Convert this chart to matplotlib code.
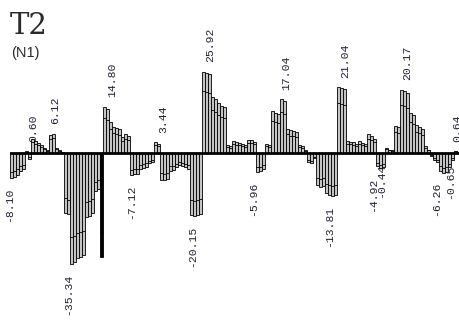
import matplotlib
matplotlib.use("Agg")
import matplotlib.pyplot as plt
import numpy as np

# bar values, left to right (one bar every ~3 px)
values = [
    -8.1, -7.6, -6.9, -5.6, -5.0, 0.5, -1.8, 4.6, 3.9, 3.3,
    2.4, 1.5, 1.0, 5.8, 6.12, 1.6, 1.0, 0.4, -19.0, -19.5,
    -35.34, -34.6, -33.5, -33.0, -32.5, -20.5, -20.0, -19.2, -12.0, -11.5,
    -33.0, 14.8, 14.0, 10.0, 8.3, 8.0, 7.6, 5.0, 5.9, 5.3,
    -7.12, -6.8, -6.6, -5.0, -4.8, -4.3, -3.3, -2.9, 3.44, 3.0,
    -8.5, -8.7, -8.4, -5.6, -5.3, -4.6, -3.8, -4.2, -4.5, -5.0,
    -19.8, -20.15, -19.6, -19.4, 25.92, 25.5, 25.0, 17.9, 17.3, 15.8,
    15.0, 14.5, 2.6, 2.2, 3.8, 3.4, 3.3, 3.0, 2.5, 4.2,
    4.0, 3.6, -5.96, -5.7, -5.2, 3.0, 2.5, 13.4, 12.8, 12.5,
    17.04, 16.5, 7.8, 7.3, 7.1, 6.8, 2.6, 2.2, 1.0, -2.8,
    -3.3, -1.5, -10.3, -10.8, -10.5, -12.8, -13.4, -13.81, -13.5, 21.04,
    20.7, 20.3, 3.9, 3.6, 3.4, 3.0, 3.8, 3.3, 3.0, 5.9,
    5.5, 4.4, -4.0, -4.92, -4.6, 1.5, 1.1, 0.9, 8.7, 8.3,
    20.17, 19.6, 19.0, 12.8, 12.0, 8.8, 8.2, 7.6, 2.2, 1.1,
    -1.0, -2.1, -3.0, -5.6, -6.26, -6.0, -4.4, -2.2, 0.64, 0.3,
]
dark_bar = 30  # the single solid black bar

# value labels: (x position in bar units, text)
label_x = [-0.8, 7.2, 14.5, 18.8, 33.5, 39.8, 50.5, 60.2, 66.2, 80.5,
           91.5, 105.8, 111.2, 120.5, 123.2, 131.8, 141.5, 146.2, 148.5]
label_txt = ["-8.10", "0.60", "6.12", "-35.34", "14.80", "-7.12", "3.44",
             "-20.15", "25.92", "-5.96", "17.04", "-13.81", "21.04", "-4.92",
             "-0.44", "20.17", "-6.26", "-0.65", "0.64"]

W, H = 460, 322
fig = plt.figure(figsize=(W / 100, H / 100), dpi=100)
ax = fig.add_axes([10 / W, 0, 450 / W, 1])
ax.set_axis_off()
ax.set_xlim(-0.5, len(values) - 0.5)
ax.set_ylim(-169 / 3.14, 153 / 3.14)

x = np.arange(len(values))
v = np.array(values)
colors = ["#c4c4c4"] * len(values)
colors[dark_bar] = "black"
ax.bar(x, v, width=0.9, color=colors, edgecolor="black", linewidth=0.6, zorder=3)
# inner edge of the 3d-looking bars
ax.hlines(0.76 * v, x - 0.45, x + 0.45, color="black", linewidth=0.6, zorder=4)

ax.axhline(0, color="black", linewidth=2.0, zorder=5)

gap = 3.0
for lx, t in zip(label_x, label_txt):
    val = float(t)
    if val >= 0:
        ax.text(lx, val + gap, t, rotation=90, ha="center", va="bottom",
                family="Liberation Mono", fontsize=8.2, color="#202034",
                zorder=2, clip_on=False)
    else:
        ax.text(lx, val - gap, t, rotation=90, ha="center", va="top",
                family="Liberation Mono", fontsize=8.2, color="#202034",
                zorder=2, clip_on=False)

fig.text(10 / W, 1 - 34 / H, "T2", family="DejaVu Serif", fontsize=21,
         color="#2a2a2a", va="baseline", ha="left")
fig.text(11 / W, 1 - 57 / H, "(N1)", family="Liberation Sans", fontsize=10.5,
         color="#2a2a2a", va="baseline", ha="left")

fig.savefig("out.png", dpi=100, facecolor="white")
